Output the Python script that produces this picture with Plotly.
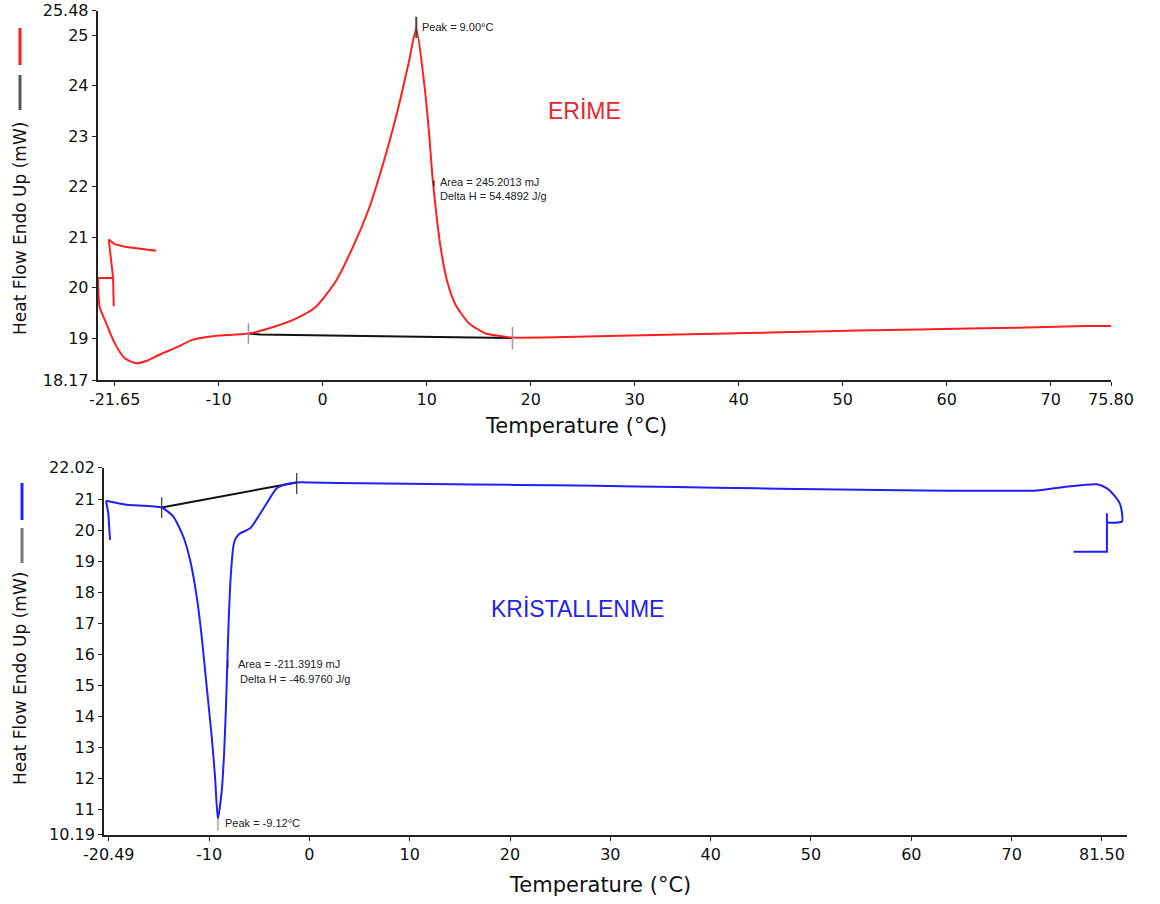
import plotly.graph_objects as go

# ---------------- Data: melting (ERİME) ----------------
melt_T = [-21.60, -21.45, -20.95, -20.00, -19.03, -17.91, -16.90, -15.81, -13.89,
          -12.60, -10.35, -7.14, -4.89, -2.63, -0.70, 1.22, 2.83, 4.44, 6.05, 7.33, 8.30,
          9.00, 9.74, 10.22, 10.54, 10.87, 11.35, 11.99, 12.80, 14.08, 15.69, 17.00, 18.25,
          25.4, 29.7, 34.2, 38.7, 43.0, 47.3, 51.5, 57.2, 62.2, 67.7, 73.4, 75.8]
melt_HF = [20.19, 19.62, 19.36, 18.90, 18.60, 18.50, 18.55, 18.66, 18.83,
           18.96, 19.04, 19.09, 19.21, 19.38, 19.61, 20.11, 20.77, 21.56, 22.62, 23.61, 24.48,
           25.13, 24.08, 23.09, 22.23, 21.57, 20.78, 20.11, 19.65, 19.29, 19.09, 19.04, 19.01,
           19.03, 19.05, 19.07, 19.09, 19.11, 19.13, 19.15, 19.17, 19.19, 19.21, 19.24, 19.24]
melt_start_T = [-21.60, -20.12]
melt_start_HF = [20.19, 20.19]
melt_hook_T = [-16.04, -17.74, -19.03, -20.00, -20.57, -20.15, -20.09]
melt_hook_HF = [20.73, 20.78, 20.81, 20.86, 20.95, 20.19, 19.63]
melt_base_T = [-7.14, -6.0, 0.58, 7.16, 13.9, 18.25]
melt_base_HF = [19.09, 19.07, 19.05, 19.03, 19.00, 19.00]
melt_peak_T = 9.00
melt_peak_mark = [24.94, 25.36]
melt_lim_T = [-7.14, 18.25]
melt_lim_HF = [[18.89, 19.30], [18.78, 19.22]]
melt_area_T = 10.70
melt_area_HF = [22.0, 22.12]

# ---------------- Data: crystallization (KRİSTALLENME) ----------------
cryst_T = [-20.27, -18.20, -14.72, -13.56, -12.56, -11.89, -11.23, -10.73, -10.23, -9.73,
           -9.40, -9.12, -8.73, -8.50, -8.30, -8.18, -8.04, -7.84, -7.58, -7.41, -7.08,
           -6.91, -5.91, -5.08, -4.25, -3.25, -2.25, -1.26, 0.07, 2.7, 12.1, 20.5, 28.6,
           36.5, 44.6, 52.8, 61.1, 66.9, 72.5, 75.17, 77.17, 78.5, 79.5, 80.33, 80.83,
           81.0, 79.5]
cryst_HF = [20.95, 20.82, 20.73, 20.44, 19.79, 19.04, 17.86, 16.57, 14.95, 13.34,
            12.05, 10.70, 11.62, 12.81, 14.42, 15.71, 17.10, 18.50, 19.47, 19.69, 19.85,
            19.90, 20.06, 20.44, 20.87, 21.35, 21.49, 21.54, 21.54, 21.52, 21.49, 21.46, 21.43,
            21.39, 21.35, 21.31, 21.28, 21.27, 21.28, 21.39, 21.46, 21.48, 21.35, 21.08, 20.82,
            20.28, 20.25]
cryst_hook_T = [-20.27, -20.04, -19.87]
cryst_hook_HF = [20.95, 20.55, 19.69]
cryst_end_T = [79.5, 79.5, 76.17]
cryst_end_HF = [20.55, 19.31, 19.31]
cryst_base_T = [-14.72, -1.26]
cryst_base_HF = [20.73, 21.54]
cryst_peak_T = -9.12
cryst_peak_mark = [10.32, 10.71]
cryst_lim_HF = [[20.39, 21.06], [21.17, 21.84]]
cryst_area_T = -8.14
cryst_area_HF = [15.56, 15.82]

# ---------------- Axis ticks ----------------
top_x_vals = [-20, -10, 0, 10, 20, 30, 40, 50, 60, 70, 75.8]
top_x_text = ["-21.65", "-10", "0", "10", "20", "30", "40", "50", "60", "70", "75.80"]
top_y_vals = [18.17, 19, 20, 21, 22, 23, 24, 25, 25.48]
top_y_text = ["18.17", "19", "20", "21", "22", "23", "24", "25", "25.48"]
bot_x_vals = [-20, -10, 0, 10, 20, 30, 40, 50, 60, 70, 79]
bot_x_text = ["-20.49", "-10", "0", "10", "20", "30", "40", "50", "60", "70", "81.50"]
bot_y_vals = [10.19, 11, 12, 13, 14, 15, 16, 17, 18, 19, 20, 21, 22.02]
bot_y_text = ["10.19", "11", "12", "13", "14", "15", "16", "17", "18", "19", "20", "21", "22.02"]

RED = "#ff1f1f"
BLUE = "#1f1fff"
W, H = 1160, 904

fig = go.Figure()

def line(x, y, color, width=2, xa="x", ya="y", smooth=False):
    ln = dict(color=color, width=width)
    if smooth:
        ln.update(shape="spline", smoothing=0.6)
    fig.add_trace(go.Scatter(x=x, y=y, mode="lines", line=ln,
                             xaxis=xa, yaxis=ya, hoverinfo="skip", showlegend=False))

# top panel
line(melt_base_T, melt_base_HF, "#111111", 2)
line(melt_T, melt_HF, RED, 2, smooth=True)
line(melt_start_T, melt_start_HF, RED, 2)
line(melt_hook_T, melt_hook_HF, RED, 2)
line([melt_peak_T, melt_peak_T], melt_peak_mark, "#444444", 2)
line([melt_lim_T[0]] * 2, melt_lim_HF[0], "#9a9a9a", 1.5)
line([melt_lim_T[1]] * 2, melt_lim_HF[1], "#9a9a9a", 1.5)
line([melt_area_T] * 2, melt_area_HF, "#333333", 1.5)

# bottom panel
line(cryst_base_T, cryst_base_HF, "#111111", 2, "x2", "y2")
line(cryst_T, cryst_HF, BLUE, 2, "x2", "y2", smooth=True)
line(cryst_hook_T, cryst_hook_HF, BLUE, 2, "x2", "y2")
line(cryst_end_T, cryst_end_HF, BLUE, 2, "x2", "y2")
line([cryst_peak_T] * 2, cryst_peak_mark, "#bbbbbb", 2, "x2", "y2")
line([cryst_base_T[0]] * 2, cryst_lim_HF[0], "#333333", 1.2, "x2", "y2")
line([cryst_base_T[1]] * 2, cryst_lim_HF[1], "#333333", 1.2, "x2", "y2")
line([cryst_area_T] * 2, cryst_area_HF, "#222266", 1.5, "x2", "y2")

axis_common = dict(showline=True, linecolor="#222222", linewidth=1.5, showgrid=False,
                   zeroline=False, ticks="outside", ticklen=4, tickcolor="#222222",
                   automargin=False,
                   tickfont=dict(family="DejaVu Sans", size=16, color="#111111"))

fig.update_layout(
    width=W, height=H, margin=dict(l=0, r=0, t=0, b=0, pad=0),
    paper_bgcolor="white", plot_bgcolor="white", showlegend=False,
    xaxis=dict(domain=[97.5 / W, 1111 / W], range=[-21.65, 75.8], anchor="y",
               tickvals=top_x_vals, ticktext=top_x_text, **axis_common),
    yaxis=dict(domain=[1 - 380 / H, 1 - 10.8 / H], range=[18.17, 25.48], anchor="x",
               tickvals=top_y_vals, ticktext=top_y_text, **axis_common),
    xaxis2=dict(domain=[103.8 / W, 1127 / W], range=[-20.49, 81.5], anchor="y2",
                tickvals=bot_x_vals, ticktext=bot_x_text, **axis_common),
    yaxis2=dict(domain=[1 - 834.8 / H, 1 - 467.5 / H], range=[10.19, 22.02], anchor="x2",
                tickvals=bot_y_vals, ticktext=bot_y_text, **axis_common),
)

small = dict(family="Liberation Sans", size=11, color="#222222")
title_font = dict(family="DejaVu Sans", size=21, color="#111111")
ytitle_font = dict(family="DejaVu Sans", size=17, color="#111111")
ann = [
    dict(x=9.35, y=25.16, xref="x", yref="y", text="Peak = 9.00°C", xanchor="left", yanchor="middle", font=small),
    dict(x=11.09, y=22.09, xref="x", yref="y", text="Area = 245.2013 mJ", xanchor="left", yanchor="middle", font=small),
    dict(x=11.09, y=21.81, xref="x", yref="y", text="Delta H = 54.4892 J/g", xanchor="left", yanchor="middle", font=small),
    dict(x=-7.31, y=15.69, xref="x2", yref="y2", text="Area = -211.3919 mJ", xanchor="left", yanchor="middle", font=small),
    dict(x=-7.15, y=15.22, xref="x2", yref="y2", text="Delta H = -46.9760 J/g", xanchor="left", yanchor="middle", font=small),
    dict(x=-8.6, y=10.56, xref="x2", yref="y2", text="Peak = -9.12°C", xanchor="left", yanchor="middle", font=small),
    dict(x=584 / W, y=1 - 111 / H, xref="paper", yref="paper", text="ERİME", xanchor="center", yanchor="middle",
         font=dict(family="Liberation Sans", size=23, color="#e8262e")),
    dict(x=577 / W, y=1 - 609 / H, xref="paper", yref="paper", text="KRİSTALLENME", xanchor="center", yanchor="middle",
         font=dict(family="Liberation Sans", size=23, color="#2424e6")),
    dict(x=576 / W, y=1 - 426 / H, xref="paper", yref="paper", text="Temperature (°C)", xanchor="center", yanchor="middle",
         font=title_font),
    dict(x=600 / W, y=1 - 885 / H, xref="paper", yref="paper", text="Temperature (°C)", xanchor="center", yanchor="middle",
         font=title_font),
    dict(x=20 / W, y=1 - 229 / H, xref="paper", yref="paper", text="Heat Flow Endo Up (mW)", textangle=-90,
         xanchor="center", yanchor="middle", font=ytitle_font),
    dict(x=20 / W, y=1 - 679 / H, xref="paper", yref="paper", text="Heat Flow Endo Up (mW)", textangle=-90,
         xanchor="center", yanchor="middle", font=ytitle_font),
]
for a in ann:
    a["showarrow"] = False
fig.update_layout(annotations=ann)

legend_marks = [
    (20, 28, 65, RED), (20, 75, 110, "#555555"),
    (22, 483, 520, BLUE), (22, 528, 563, "#777777"),
]
shapes = []
for px, y0, y1, col in legend_marks:
    shapes.append(dict(type="line", xref="paper", yref="paper", x0=px / W, x1=px / W,
                       y0=1 - y0 / H, y1=1 - y1 / H, line=dict(color=col, width=3)))
fig.update_layout(shapes=shapes)

fig.write_html("out.html", config={"displayModeBar": False},
               post_script="document.body.style.margin='0';")
